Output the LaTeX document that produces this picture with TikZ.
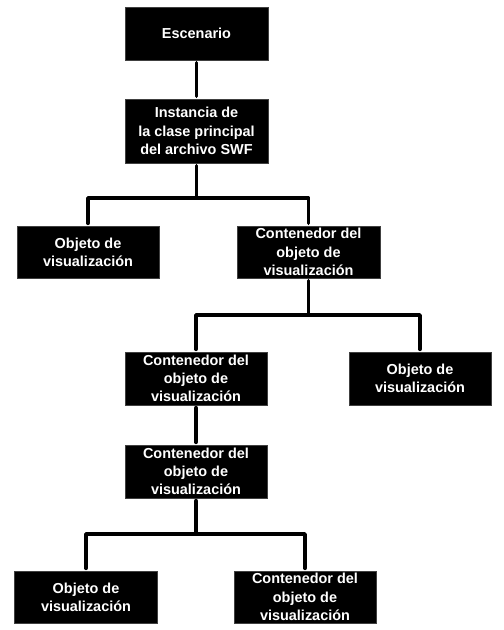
\documentclass[tikz,border=0pt]{standalone}
\usepackage{fontspec}
\setmainfont{Liberation Sans}
\begin{document}
\begin{tikzpicture}[x=1bp,y=-1bp,
  box/.style={rectangle, fill=black, draw=black!75, line width=0.6bp, inner sep=0pt,
    minimum width=143bp, minimum height=53bp, align=center, text=white,
    font=\fontsize{14.5}{18.3}\selectfont\bfseries},
  conn/.style={line width=3.8bp, line cap=round, line join=round, shorten <=2.5bp, shorten >=2.5bp}]
\useasboundingbox (0,0) rectangle (504,630);
\node[box] (esc) at (196.5,33.5) {Escenario};
\node[box, minimum height=64bp] (inst) at (196.5,131) {Instancia de\\la clase principal\\del archivo SWF};
\node[box, minimum width=142bp, minimum height=52bp] (obj1) at (88,252) {Objeto de\\visualización};
\node[box, minimum height=52bp] (cont1) at (308.5,252) {Contenedor del\\objeto de\\visualización};
\node[box, minimum width=142bp] (cont2) at (196,378.5) {Contenedor del\\objeto de\\visualización};
\node[box, minimum width=142bp] (obj2) at (420,378.5) {Objeto de\\visualización};
\node[box, minimum width=142bp] (cont3) at (196,471.5) {Contenedor del\\objeto de\\visualización};
\node[box, minimum width=143bp, minimum height=52bp] (obj3) at (86,597) {Objeto de\\visualización};
\node[box, minimum width=142bp, minimum height=52bp] (cont4) at (305,597) {Contenedor del\\objeto de\\visualización};
\coordinate (b1) at (196.5,198);
\coordinate (b2) at (308.5,315);
\coordinate (b3) at (196,534);
\draw[conn] (esc) -- (inst);
\draw[conn, shorten >=0pt] (inst.south) -- (b1);
\draw[conn] (obj1.north) |- (b1) -| (cont1.north);
\draw[conn, shorten >=0pt] (cont1.south) -- (b2);
\draw[conn] (cont2.north) |- (b2) -| (obj2.north);
\draw[conn] (cont2) -- (cont3);
\draw[conn, shorten >=0pt] (cont3.south) -- (b3);
\draw[conn] (obj3.north) |- (b3) -| (cont4.north);
\end{tikzpicture}
\end{document}
